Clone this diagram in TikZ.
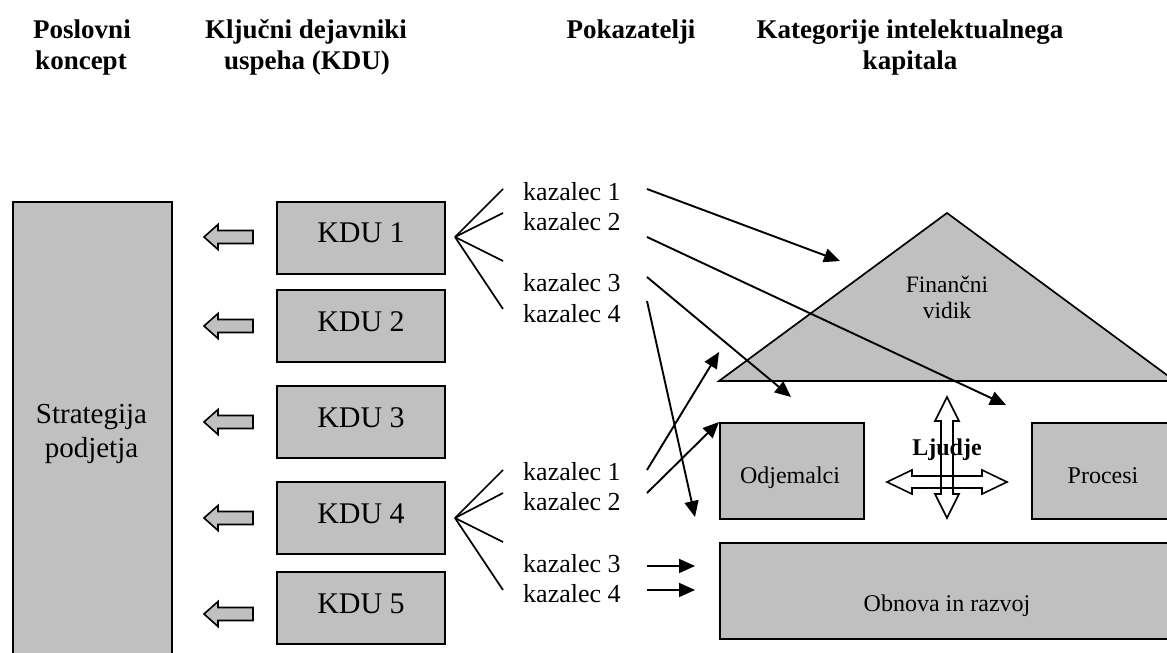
\documentclass[tikz,border=0pt]{standalone}
\usepackage{fontspec}
\setmainfont{Liberation Serif}
\usetikzlibrary{arrows.meta}
\definecolor{boxgray}{HTML}{C0C0C0}
\tikzset{
  x=1pt, y=-1pt,
  head/.style={font=\fontsize{27}{32}\selectfont\bfseries, anchor=base, inner sep=0},
  box/.style={draw, line width=2pt, fill=boxgray},
  kdubox/.style={box, minimum width=168pt, minimum height=72pt, inner sep=0,
    text height=20pt, text depth=10pt, font=\fontsize{30}{34}\selectfont},
  ind/.style={font=\fontsize{26}{30}\selectfont, anchor=base west, inner sep=0},
  lbl/.style={font=\fontsize{24}{28}\selectfont, anchor=base, inner sep=0},
  fan/.style={line width=1.7pt},
  link/.style={line width=1.9pt, -{Triangle[length=16pt,width=14pt]}},
  blockarrow/.style={draw, line width=1.6pt, fill=boxgray},
  hollowarrow/.style={draw, line width=1.6pt},
  pics/leftarrow/.style={code={
    \path[blockarrow] (-24.5,0) -- (-10.5,-12.5) -- (-10.5,-6.5) -- (24.5,-6.5)
      -- (24.5,6.5) -- (-10.5,6.5) -- (-10.5,12.5) -- cycle;}}
}
\begin{document}
\begin{tikzpicture}
\useasboundingbox (0,0) rectangle (1167,653);
\clip (0,0) rectangle (1167,653);

% column headings
\node[head] (h1a) at (82,38) {Poslovni};
\node[head] (h1b) at (81,69) {koncept};
\node[head] (h2a) at (306,38) {Ključni dejavniki};
\node[head] (h2b) at (307,69) {uspeha (KDU)};
\node[head] (h3a) at (631,38) {Pokazatelji};
\node[head] (h4a) at (910,38) {Kategorije intelektualnega};
\node[head] (h4b) at (910,69) {kapitala};

% business concept
\node[box, anchor=north west, minimum width=159pt, minimum height=480pt, inner sep=0]
  (strat) at (12,201) {};
\node[font=\fontsize{29}{34}\selectfont, anchor=base, inner sep=0] (strat1) at (91.5,423) {Strategija};
\node[font=\fontsize{29}{34}\selectfont, anchor=base, inner sep=0] (strat2) at (91.5,457) {podjetja};

% key success factors
\node[kdubox] (kdu1) at (361,237.5) {KDU 1};
\node[kdubox] (kdu2) at (361,326) {KDU 2};
\node[kdubox] (kdu3) at (361,422) {KDU 3};
\node[kdubox] (kdu4) at (361,518) {KDU 4};
\node[kdubox] (kdu5) at (361,608) {KDU 5};

\pic at (228.5,237) {leftarrow};
\pic at (228.5,326) {leftarrow};
\pic at (228.5,422) {leftarrow};
\pic at (228.5,518) {leftarrow};
\pic at (228.5,614) {leftarrow};

% intellectual capital categories
\coordinate (triL) at (719,381);
\coordinate (triT) at (947,213);
\coordinate (triR) at (1175,381);
\path[box, line width=1.7pt] (triL) -- (triT) -- (triR) -- cycle;
\node[font=\fontsize{23.5}{26}\selectfont, anchor=base, inner sep=0] (fin1) at (947,292) {Finančni};
\node[font=\fontsize{23.5}{26}\selectfont, anchor=base, inner sep=0] (fin2) at (947,318) {vidik};

\node[box, anchor=north west, minimum width=144pt, minimum height=96pt, inner sep=0] (odj) at (719,422) {};
\node[lbl] (odjt) at (790,483) {Odjemalci};
\node[box, anchor=north west, minimum width=144pt, minimum height=96pt, inner sep=0] (proc) at (1031,422) {};
\node[lbl] (proct) at (1103,483) {Procesi};
\node[box, anchor=north west, minimum width=456pt, minimum height=96pt, inner sep=0] (obn) at (719,542) {};
\node[lbl] (obnt) at (947,611) {Obnova in razvoj};

% people, linked in all directions
\node[lbl, font=\fontsize{24}{28}\selectfont\bfseries] (ljud) at (947,455) {Ljudje};
\path[hollowarrow] (947,397) -- (959,421) -- (953,421) -- (953,494) -- (959,494) -- (947,518)
  -- (935,494) -- (941,494) -- (941,421) -- (935,421) -- cycle;
\path[hollowarrow] (887,482) -- (912,470) -- (912,476) -- (982,476) -- (982,470) -- (1007,482)
  -- (982,494) -- (982,488) -- (912,488) -- (912,494) -- cycle;

% indicators of KDU 1
\node[ind] (a1) at (523,200) {kazalec 1};
\node[ind] (a2) at (523,230) {kazalec 2};
\node[ind] (a3) at (523,291) {kazalec 3};
\node[ind] (a4) at (523,322) {kazalec 4};
\coordinate (fanA) at (455,237);
\foreach \y in {189,213,261,309} \draw[fan] (fanA) -- (503,\y);

% indicators of KDU 4
\node[ind] (b1) at (523,480) {kazalec 1};
\node[ind] (b2) at (523,510) {kazalec 2};
\node[ind] (b3) at (523,572) {kazalec 3};
\node[ind] (b4) at (523,602) {kazalec 4};
\coordinate (fanB) at (455,518);
\foreach \y in {470,493,542,590} \draw[fan] (fanB) -- (503,\y);

% links from indicators to categories
\coordinate (a1s) at (647,189);
\coordinate (a2s) at (647,237);
\coordinate (a3s) at (647,277);
\coordinate (a4s) at (647,301);
\coordinate (a1e) at (840,261);
\coordinate (a2e) at (1006,405);
\coordinate (a3e) at (791,397);
\coordinate (a4e) at (695,517);
\draw[link] (a1s) -- (a1e);
\draw[link] (a2s) -- (a2e);
\draw[link] (a3s) -- (a3e);
\draw[link] (a4s) -- (a4e);

\coordinate (b1s) at (647,470);
\coordinate (b2s) at (647,493);
\coordinate (b3s) at (647,566);
\coordinate (b4s) at (647,590);
\coordinate (b1e) at (719,352);
\coordinate (b3e) at (695,566);
\coordinate (b4e) at (695,590);
\draw[link] (b1s) -- (b1e);
\draw[link] (b2s) -- (odj.north west);
\draw[link] (b3s) -- (b3e);
\draw[link] (b4s) -- (b4e);
\end{tikzpicture}
\end{document}
